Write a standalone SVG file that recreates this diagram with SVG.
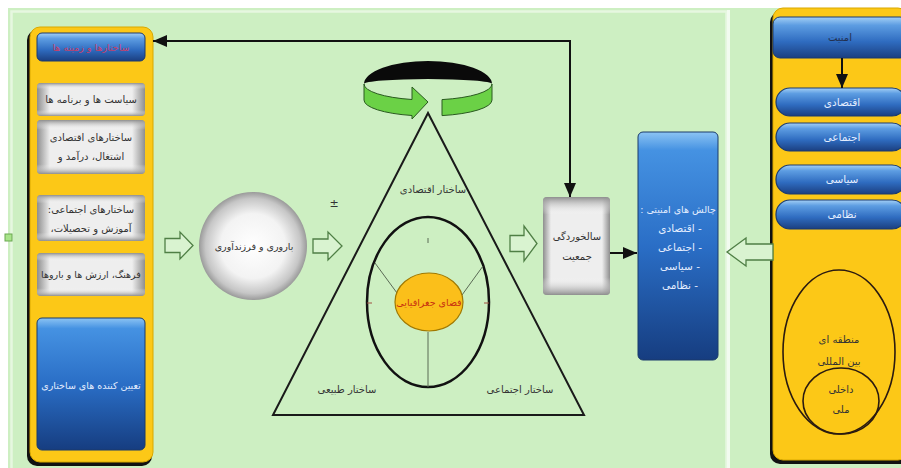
<svg xmlns="http://www.w3.org/2000/svg" width="901" height="468" viewBox="0 0 901 468">
<style>
.t{font-family:"DejaVu Sans","Noto Sans",sans-serif;font-size:10px;fill:#333;text-anchor:middle;direction:rtl}
.tw{font-family:"DejaVu Sans","Noto Sans",sans-serif;font-size:10.5px;fill:#e4eeff;text-anchor:middle;direction:rtl}
.ln{stroke:#111;stroke-width:2;fill:none}
.hollow{fill:#d9f3d0;stroke:#4f7f45;stroke-width:1.3}
.gbox{fill:url(#grayH)}
.gov{fill:url(#grayV)}
.pill{fill:url(#blueBtn);stroke:#1a3a70;stroke-width:1.2}
</style>
<defs>
<linearGradient id="blueBtn" x1="0" y1="0" x2="0" y2="1">
<stop offset="0" stop-color="#a4d0f6"/><stop offset="0.2" stop-color="#5d9de2"/><stop offset="0.6" stop-color="#2f6cc0"/><stop offset="1" stop-color="#1b3f80"/>
</linearGradient>
<linearGradient id="blueTall" x1="0" y1="0" x2="0" y2="1">
<stop offset="0" stop-color="#8cc4f4"/><stop offset="0.08" stop-color="#4592e2"/><stop offset="0.5" stop-color="#2a6ec6"/><stop offset="1" stop-color="#163d80"/>
</linearGradient>
<linearGradient id="grayH" x1="0" y1="0" x2="1" y2="0">
<stop offset="0" stop-color="#8e8e8e"/><stop offset="0.12" stop-color="#eeeeee"/><stop offset="0.88" stop-color="#eeeeee"/><stop offset="1" stop-color="#8e8e8e"/>
</linearGradient>
<linearGradient id="grayV" x1="0" y1="0" x2="0" y2="1">
<stop offset="0" stop-color="#8e8e8e" stop-opacity="1"/><stop offset="0.18" stop-color="#ffffff" stop-opacity="0"/><stop offset="0.82" stop-color="#ffffff" stop-opacity="0"/><stop offset="1" stop-color="#8e8e8e" stop-opacity="1"/>
</linearGradient>
<radialGradient id="ball" cx="0.5" cy="0.5" r="0.5">
<stop offset="0" stop-color="#ffffff"/><stop offset="0.6" stop-color="#f3f3f3"/><stop offset="0.88" stop-color="#c6c6c6"/><stop offset="1" stop-color="#9a9a9a"/>
</radialGradient>
<marker id="ah" viewBox="0 0 14 12" refX="14" refY="6" markerWidth="14" markerHeight="12" markerUnits="userSpaceOnUse" orient="auto">
<path d="M0 0 L14 6 L0 12 Z" fill="#111"/>
</marker>
</defs>

<!-- background -->
<rect x="0" y="0" width="901" height="468" fill="#ffffff"/>
<rect x="8" y="8" width="893" height="460" fill="#cdefc2"/>
<rect x="11.5" y="11.5" width="715" height="460" fill="none" stroke="#e6f7e0" stroke-width="2.5"/>
<rect x="727" y="10" width="3" height="458" fill="#f2fbf0"/>
<rect x="5" y="234" width="7" height="7" fill="#a8e48a" stroke="#6aa850" stroke-width="1"/>

<!-- left panel -->
<g id="left-panel">
<rect x="27" y="30" width="125" height="436" rx="10" fill="#111"/>
<rect x="30" y="27" width="123" height="435" rx="10" fill="#fcc817" stroke="#d9a800" stroke-width="1"/>
</g>
<g id="n-sakhtarha">
<rect x="37" y="33" width="108" height="28" rx="5" fill="url(#blueBtn)" stroke="#1a3a70" stroke-width="1"/>
<text class="t" x="91" y="51" style="fill:#c8406a;font-size:9.5px">ساختارها و زمینه ها</text>
</g>
<g id="n-siasat">
<rect class="gbox" x="37" y="83" width="108" height="33" rx="4"/>
<rect class="gov" x="37" y="83" width="108" height="33" rx="4"/>
<text class="t" x="91" y="103">سیاست ها و برنامه ها</text>
</g>
<g id="n-eqtesadi">
<rect class="gbox" x="37" y="120" width="108" height="54" rx="4"/>
<rect class="gov" x="37" y="120" width="108" height="54" rx="4"/>
<text class="t" x="91" y="141">ساختارهای اقتصادی</text>
<text class="t" x="91" y="160">اشتغال، درآمد و</text>
</g>
<g id="n-ejtemai">
<rect class="gbox" x="37" y="195" width="108" height="46" rx="4"/>
<rect class="gov" x="37" y="195" width="108" height="46" rx="4"/>
<text class="t" x="91" y="213">ساختارهای اجتماعی:</text>
<text class="t" x="91" y="232">آموزش و تحصیلات،</text>
</g>
<g id="n-farhang">
<rect class="gbox" x="37" y="253" width="108" height="43" rx="4"/>
<rect class="gov" x="37" y="253" width="108" height="43" rx="4"/>
<text class="t" x="91" y="278" style="font-size:9.5px">فرهنگ، ارزش ها و باروها</text>
</g>
<g id="n-tayin">
<rect x="37" y="318" width="108" height="132" rx="5" fill="url(#blueTall)" stroke="#1a3a6a" stroke-width="1"/>
<text class="tw" x="91" y="389" style="font-size:9.5px">تعیین کننده های ساختاری</text>
</g>

<!-- fertility circle -->
<g id="n-barvari">
<circle cx="253" cy="246" r="54" fill="url(#ball)"/>
<text class="t" x="254" y="250" style="font-size:9.5px">باروری و فرزندآوری</text>
</g>
<text class="t" x="334" y="207" style="direction:ltr;font-size:11px">±</text>

<!-- rotating arrow -->
<g id="n-cycle">
<path d="M 364 84 A 64 23 0 0 1 492 84 A 64 5 0 0 0 364 84 Z" fill="#0a0a0a"/>
<path d="M 364 84 A 64 16 0 0 0 412 99.5 L 412 87 L 428 102 L 412 119 L 412 115.5 A 64 16 0 0 1 364 100 Z" fill="#6bd146" stroke="#2a5a20" stroke-width="1"/>
<path d="M 442 99.6 A 64 16 0 0 0 492 84 L 492 100 A 64 16 0 0 1 442 115.6 Z" fill="#6bd146" stroke="#2a5a20" stroke-width="1"/>
</g>

<!-- triangle -->
<g id="n-triangle">
<polygon points="428,113 273,415 584,415" fill="none" stroke="#1a1a1a" stroke-width="2"/>
<text class="t" x="433" y="193">ساختار اقتصادی</text>
<text class="t" x="347" y="393">ساختار طبیعی</text>
<text class="t" x="520" y="393">ساختار اجتماعی</text>
</g>
<g id="n-ellipse">
<ellipse cx="428" cy="302" rx="61" ry="85" fill="none" stroke="#111" stroke-width="2.5"/>
<g stroke="#5a6a55" stroke-width="1">
<line x1="375" y1="263" x2="397" y2="293"/>
<line x1="483" y1="266" x2="462" y2="295"/>
<line x1="428" y1="332" x2="428" y2="387"/>
<line x1="428" y1="238" x2="428" y2="243"/>
<line x1="367" y1="303" x2="372" y2="303" stroke="#a05040"/>
<line x1="484" y1="303" x2="489" y2="303" stroke="#a05040"/>
</g>
</g>
<g id="n-faza">
<ellipse cx="429" cy="302" rx="34" ry="29" fill="#fbbf1a" stroke="#a07800" stroke-width="1.2"/>
<text class="t" x="429" y="306" style="fill:#c83010;font-size:9.5px">فضای جغرافیایی</text>
</g>

<!-- aging box -->
<g id="n-salkhordegi">
<rect class="gbox" x="543" y="197" width="67" height="98" rx="4"/>
<rect class="gov" x="543" y="197" width="67" height="98" rx="4"/>
<text class="t" x="577" y="240">سالخوردگی</text>
<text class="t" x="577" y="260">جمعیت</text>
</g>

<!-- security challenges -->
<g id="n-chalesh">
<rect x="638" y="132" width="80" height="228" rx="5" fill="url(#blueTall)" stroke="#1a3a6a" stroke-width="1"/>
<text class="tw" x="678" y="213" style="font-size:9.5px">چالش های امنیتی :</text>
<text class="tw" x="680" y="232">- اقتصادی</text>
<text class="tw" x="680" y="251">- اجتماعی</text>
<text class="tw" x="680" y="270">- سیاسی</text>
<text class="tw" x="680" y="289">- نظامی</text>
</g>

<!-- right panel -->
<g id="right-panel">
<rect x="770" y="12" width="140" height="452" rx="10" fill="#111"/>
<rect x="773" y="8" width="135" height="452" rx="10" fill="#fcc817" stroke="#d9a800" stroke-width="1"/>
</g>
<g id="n-amniat">
<rect x="773" y="17" width="134" height="41" rx="7" fill="url(#blueBtn)" stroke="#1a3a70" stroke-width="1"/>
<text class="t" x="840" y="41" style="fill:#23304f">امنیت</text>
</g>
<g id="n-p-eqtesadi">
<rect class="pill" x="776" y="88" width="130" height="28" rx="14"/>
<text class="tw" x="842" y="106">اقتصادی</text>
</g>
<g id="n-p-ejtemai">
<rect class="pill" x="776" y="123" width="130" height="28" rx="14"/>
<text class="tw" x="842" y="141">اجتماعی</text>
</g>
<g id="n-p-siasi">
<rect class="pill" x="776" y="165" width="130" height="29" rx="14"/>
<text class="tw" x="842" y="183">سیاسی</text>
</g>
<g id="n-p-nezami">
<rect class="pill" x="776" y="200" width="130" height="29" rx="14"/>
<text class="tw" x="842" y="218">نظامی</text>
</g>
<g id="n-scope">
<ellipse cx="839" cy="352" rx="56" ry="82" fill="none" stroke="#2a1a10" stroke-width="1.6"/>
<ellipse cx="841" cy="401" rx="38" ry="33" fill="none" stroke="#2a1a10" stroke-width="1.6"/>
<text class="t" x="839" y="343">منطقه ای</text>
<text class="t" x="839" y="365">بین المللی</text>
<text class="t" x="841" y="393">داخلی</text>
<text class="t" x="841" y="413">ملی</text>
</g>

<!-- connectors -->
<g id="connectors">
<path class="ln" d="M 570 41 L 153 41" marker-end="url(#ah)"/>
<path class="ln" d="M 570 40 L 570 197" marker-end="url(#ah)"/>
<path class="ln" d="M 610 253 L 637 253" marker-end="url(#ah)"/>
<path class="ln" d="M 842 58 L 842 88" marker-end="url(#ah)"/>
<polygon class="hollow" points="165,238.5 180,238.5 180,232 193,245.5 180,259 180,252.5 165,252.5"/>
<polygon class="hollow" points="313,239 328,239 328,232 342,246 328,260 328,253 313,253"/>
<polygon class="hollow" points="510,235.5 524,235.5 524,226 537,243.5 524,261 524,251.5 510,251.5"/>
<polygon class="hollow" points="773,244 746,244 746,238 727,252 746,266 746,260 773,260"/>
</g>
</svg>
